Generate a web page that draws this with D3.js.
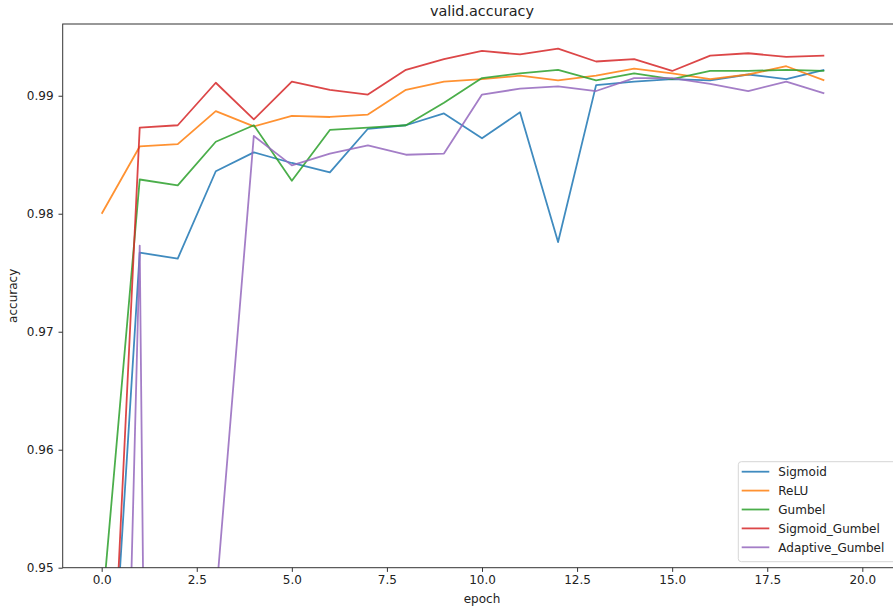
<!DOCTYPE html>
<html>
<head>
<meta charset="utf-8">
<script src="https://cdn.jsdelivr.net/npm/d3@7"></script>
<style>
  html, body { margin: 0; padding: 0; background: #fff; }
  svg { display: block; font-family: "DejaVu Sans", sans-serif; }
</style>
</head>
<body>
<div id="chart"></div>
<script>
const epochs = [0,1,2,3,4,5,6,7,8,9,10,11,12,13,14,15,16,17,18,19];
const seriesNames = ["Sigmoid", "ReLU", "Gumbel", "Sigmoid_Gumbel", "Adaptive_Gumbel"];
const sigmoid = [0.925, 0.9767, 0.9762, 0.9836, 0.9852, 0.9843, 0.9835, 0.9872, 0.9875, 0.9885, 0.9864, 0.9886, 0.9776, 0.9909, 0.9912, 0.9914, 0.9913, 0.9918, 0.9914, 0.9922];
const relu = [0.9800, 0.9857, 0.9859, 0.9887, 0.9874, 0.9883, 0.9882, 0.9884, 0.9905, 0.9912, 0.9914, 0.9917, 0.9913, 0.9917, 0.9923, 0.9919, 0.9914, 0.9918, 0.9925, 0.9913];
const gumbel = [0.946, 0.9829, 0.9824, 0.9861, 0.9875, 0.9828, 0.9871, 0.9873, 0.9875, 0.9894, 0.9915, 0.9919, 0.9922, 0.9913, 0.9919, 0.9914, 0.9921, 0.9921, 0.9922, 0.9921];
const sigmoidGumbel = [0.920, 0.9873, 0.9875, 0.9911, 0.9880, 0.9912, 0.9905, 0.9901, 0.9922, 0.9931, 0.9938, 0.9935, 0.9940, 0.9929, 0.9931, 0.9921, 0.9934, 0.9936, 0.9933, 0.9934];
const adaptiveGumbel = [0.850, 0.9773, 0.660, 0.9472, 0.9866, 0.9841, 0.9851, 0.9858, 0.9850, 0.9851, 0.9901, 0.9906, 0.9908, 0.9904, 0.9915, 0.9915, 0.9910, 0.9904, 0.9912, 0.9902];
const colors = ["#1f77b4", "#ff7f0e", "#2ca02c", "#d62728", "#9467bd"];
const xTicks = [0, 2.5, 5, 7.5, 10, 12.5, 15, 17.5, 20];
const yTicks = [0.95, 0.96, 0.97, 0.98, 0.99];
const allSeries = [sigmoid, relu, gumbel, sigmoidGumbel, adaptiveGumbel];

const W = 893, H = 612;
const mLeft = 62.7, mRight = 901.3, mTop = 24, mBottom = 567.7;

const svg = d3.select("#chart").append("svg").attr("width", W).attr("height", H);

const x = d3.scaleLinear().domain([-1.025, 21.025]).range([mLeft, mRight]);
const y = d3.scaleLinear().domain([0.95, 0.99608]).range([mBottom, mTop]);

svg.append("defs").append("clipPath").attr("id", "clip")
  .append("rect").attr("x", mLeft).attr("y", mTop).attr("width", mRight - mLeft).attr("height", mBottom - mTop);

// lines
const line = d3.line().x((d, i) => x(epochs[i])).y(d => y(d));
const g = svg.append("g").attr("clip-path", "url(#clip)");
allSeries.forEach((s, k) => {
  g.append("path").datum(s).attr("d", line)
    .attr("fill", "none").attr("stroke", colors[k]).attr("stroke-width", 1.8)
    .attr("stroke-opacity", 0.85).attr("stroke-linejoin", "round").attr("stroke-linecap", "butt");
});

// axes
const xAxis = d3.axisBottom(x).tickValues(xTicks).tickFormat(d3.format(".1f")).tickSizeOuter(0).tickSize(4.2).tickPadding(4);
const yAxis = d3.axisLeft(y).tickValues(yTicks).tickFormat(d3.format(".2f")).tickSizeOuter(0).tickSize(4.2).tickPadding(5);

const gx = svg.append("g").attr("transform", `translate(0,${mBottom})`).call(xAxis);
const gy = svg.append("g").attr("transform", `translate(${mLeft},0)`).call(yAxis);
[gx, gy].forEach(a => {
  a.select(".domain").remove();
  a.selectAll(".tick line").attr("stroke", "#333").attr("stroke-width", 1);
  a.selectAll(".tick text").attr("fill", "#222").style("font-size", "12px").style("font-family", "DejaVu Sans, sans-serif");
});

// spines
svg.append("rect").attr("x", mLeft).attr("y", mTop).attr("width", mRight - mLeft).attr("height", mBottom - mTop)
  .attr("fill", "none").attr("stroke", "#333").attr("stroke-width", 1);

// title and labels
const cx = (mLeft + mRight) / 2;
svg.append("text").attr("x", cx).attr("y", 15.5).attr("text-anchor", "middle")
  .attr("fill", "#222").style("font-size", "14.4px").text("valid.accuracy");
svg.append("text").attr("x", cx).attr("y", 603).attr("text-anchor", "middle")
  .attr("fill", "#222").style("font-size", "12px").text("epoch");
svg.append("text").attr("transform", `translate(17,${(mTop + mBottom) / 2}) rotate(-90)`)
  .attr("text-anchor", "middle").attr("fill", "#222").style("font-size", "12px").text("accuracy");

// legend
const lgW = 158, lgH = 100;
const lgX = mRight - 5 - lgW, lgY = mBottom - 6 - lgH;
const lg = svg.append("g").attr("transform", `translate(${lgX},${lgY})`);
lg.append("rect").attr("width", lgW).attr("height", lgH).attr("rx", 3)
  .attr("fill", "#fff").attr("fill-opacity", 0.8).attr("stroke", "#d6d6d6").attr("stroke-width", 1);
seriesNames.forEach((n, k) => {
  const yy = 10 + k * 18.9;
  lg.append("line").attr("x1", 3.4).attr("x2", 31).attr("y1", yy).attr("y2", yy)
    .attr("stroke", colors[k]).attr("stroke-width", 1.8).attr("stroke-opacity", 0.85);
  lg.append("text").attr("x", 40).attr("y", yy + 4.3).attr("fill", "#222").style("font-size", "12px").text(n);
});
</script>
</body>
</html>
